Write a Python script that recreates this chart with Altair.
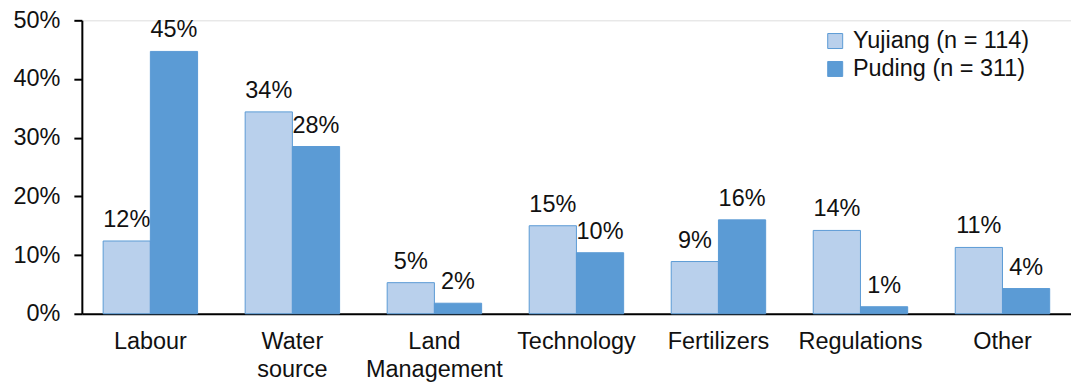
import altair as alt
import pandas as pd

# Share of respondents naming each constraint, by county
categories = ["Labour", "Water source", "Land Management", "Technology",
              "Fertilizers", "Regulations", "Other"]
series = ["Yujiang (n = 114)", "Puding (n = 311)"]
yujiang = [0.124, 0.344, 0.053, 0.150, 0.089, 0.142, 0.113]
puding = [0.447, 0.285, 0.018, 0.104, 0.160, 0.012, 0.043]

rows = []
for cat, y, p in zip(categories, yujiang, puding):
    rows.append({"category": cat, "series": series[0], "value": y})
    rows.append({"category": cat, "series": series[1], "value": p})
df = pd.DataFrame(rows)

FONT = "Liberation Sans"
TEXT = "#111111"
FS = 23.5

base = alt.Chart(df).encode(
    x=alt.X(
        "category:N",
        sort=categories,
        title=None,
        scale=alt.Scale(paddingInner=0.335, paddingOuter=0.15),
        axis=alt.Axis(
            labelAngle=0,
            labelFontSize=FS,
            labelFont=FONT,
            labelColor=TEXT,
            labelPadding=16,
            labelLineHeight=28,
            labelExpr="datum.label == 'Water source' ? ['Water', 'source'] : "
                      "datum.label == 'Land Management' ? ['Land', 'Management'] : datum.label",
            ticks=False,
            domainColor="black",
            domainWidth=2,
        ),
    ),
    xOffset=alt.XOffset("series:N", sort=series),
    y=alt.Y(
        "value:Q",
        title=None,
        scale=alt.Scale(domain=[0, 0.5]),
        axis=alt.Axis(
            format=".0%",
            values=[0, 0.1, 0.2, 0.3, 0.4, 0.5],
            grid=False,
            labelFontSize=FS,
            labelFont=FONT,
            labelColor=TEXT,
            labelPadding=14,
            tickSize=8,
            tickWidth=2,
            tickColor="black",
            domainColor="black",
            domainWidth=2,
        ),
    ),
)

bars = base.mark_bar(strokeWidth=1).encode(
    fill=alt.Fill(
        "series:N",
        sort=series,
        title=None,
        scale=alt.Scale(domain=series, range=["#b9d0ec", "#5b9bd5"]),
        legend=alt.Legend(
            orient="none",
            legendX=743,
            legendY=9,
            symbolType="square",
            symbolSize=225,
            symbolStrokeColor="#5b9bd5",
            symbolStrokeWidth=1,
            labelFontSize=FS,
            labelFont=FONT,
            labelColor=TEXT,
            labelLimit=400,
            rowPadding=3,
            labelOffset=6,
        ),
    ),
    stroke=alt.value("#5b9bd5"),
)

labels = base.mark_text(
    baseline="bottom", dy=-9, fontSize=FS, font=FONT, color=TEXT
).encode(text=alt.Text("value:Q", format=".0%"))

chart = (
    alt.layer(bars, labels)
    .properties(
        width=991,
        height=294,
        padding={"left": 12, "top": 8, "right": 0, "bottom": 0},
    )
    .configure_view(stroke=None)
    .configure(background="white")
)

chart.save("out.html", embed_options={"renderer": "svg", "actions": False})
